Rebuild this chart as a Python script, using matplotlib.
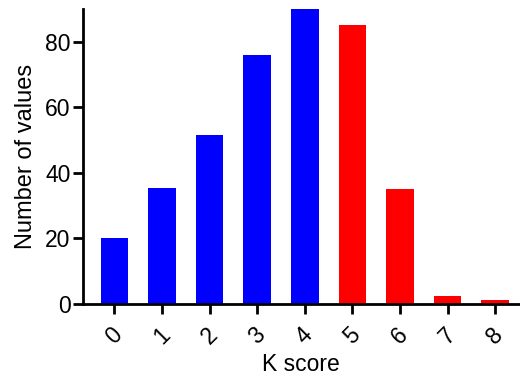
import matplotlib.pyplot as plt

plt.rcParams['font.family'] = ['Liberation Sans', 'DejaVu Sans']

# K score histogram
k_scores = [0, 1, 2, 3, 4, 5, 6, 7, 8]
counts = [20, 35.5, 51.5, 76, 90, 85, 35, 2.4, 1.3]
tick_labels = ['0', '1', '2', '3', '4', '5', '6', '7', '8']
colors = ['#0000FF'] * 5 + ['#FF0000'] * 4

fig = plt.figure(figsize=(5.2, 3.77), dpi=100)
ax = fig.add_axes([83 / 520, 1 - 304 / 377, 436 / 520, 295 / 377])

ax.bar(k_scores, counts, width=0.58, color=colors)

ax.set_xlim(-0.66, 8.5)
ax.set_ylim(0, 90)
ax.set_yticks([0, 20, 40, 60, 80])
ax.set_xticks(k_scores)
ax.set_xticklabels(tick_labels, rotation=45, ha='center', va='top')

for side in ['top', 'right']:
    ax.spines[side].set_visible(False)
for side in ['left', 'bottom']:
    ax.spines[side].set_linewidth(2)

ax.tick_params(axis='both', width=2, length=7, labelsize=16.5, direction='out')
ax.tick_params(axis='y', pad=2)
ax.tick_params(axis='x', pad=7)

ax.set_xlabel('K score', fontsize=16.5, labelpad=3)
ax.set_ylabel('Number of values', fontsize=17, labelpad=6)

plt.savefig('out.png', dpi=100)
